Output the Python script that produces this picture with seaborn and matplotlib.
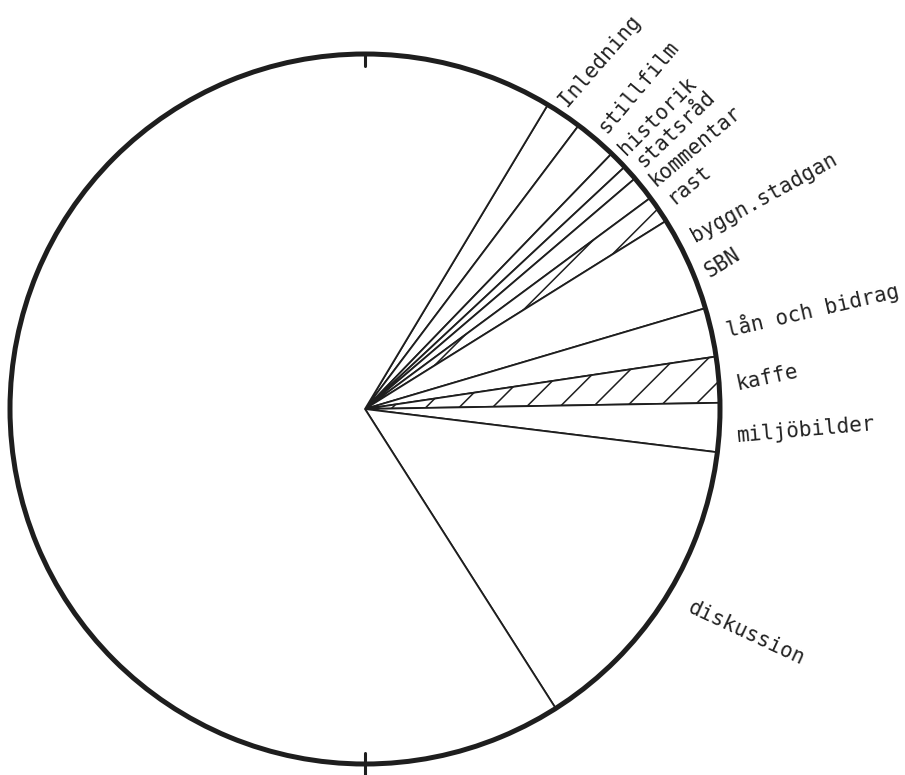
import numpy as np
import matplotlib
matplotlib.use("Agg")
import matplotlib.pyplot as plt
import seaborn as sns

# === data: a 12 hour clock face, minutes per item ===
topics = ["Inledning", "stillfilm", "historik", "statsråd", "kommentar", "rast",
          "byggn.stadgan / SBN", "lån och bidrag", "kaffe", "miljöbilder", "diskussion"]
minutes = [12, 14, 6, 5, 8, 9, 31, 16, 15, 16, 101]
is_break = [False, False, False, False, False, True, False, False, True, False, False]
start_minute = 62          # 13:02 on the clock face
clock_minutes = 720        # whole circle = 12 h
clock_marks = [0, 360]     # 12 and 6 o'clock

# text labels as written on the sheet (byggn.stadgan / SBN split on two lines)
label_texts = ["Inledning", "stillfilm", "historik", "statsråd", "kommentar", "rast",
               "byggn.stadgan", "SBN", "lån och bidrag", "kaffe", "miljöbilder", "diskussion"]
# placement of each text (x, y, rotation) - style only
label_pos = [(0.569, 0.851, 49), (0.680, 0.776, 50), (0.734, 0.714, 45),
             (0.784, 0.678, 44), (0.820, 0.624, 40), (0.868, 0.574, 40),
             (0.930, 0.470, 29), (0.972, 0.369, 32), (1.022, 0.203, 13),
             (1.051, 0.054, 12), (1.048, -0.093, 5), (0.907, -0.572, -25)]

sns.set_style("white")
plt.rcParams["font.family"] = ["DejaVu Sans Mono", "DejaVu Sans"]
plt.rcParams["hatch.linewidth"] = 1.1

fig = plt.figure(figsize=(9.05, 7.75), dpi=100)
ax = fig.add_axes([10 / 905, 11 / 775, 710 / 905, 710 / 775])

rest = clock_minutes - sum(minutes)
values = minutes + [rest]
startangle = 90 - start_minute * 360 / clock_minutes

wedges, _ = ax.pie(values, radius=1, startangle=startangle, counterclock=False,
                   colors=["white"] * len(values),
                   wedgeprops=dict(edgecolor="#1e1e1e", linewidth=1.3))
for w, hatched in zip(wedges, is_break + [False]):
    if hatched:
        w.set_hatch("/")

# thick rim of the clock
ax.pie([1], radius=1, wedgeprops=dict(fill=False, edgecolor="#1e1e1e", linewidth=3.6))

# small marks at 12 and 6 o'clock
for m, (r0, r1) in zip(clock_marks, [(0.965, 1.0), (0.97, 1.03)]):
    a = np.deg2rad(90 - m * 360 / clock_minutes)
    r = np.array([r0, r1])
    ax.plot(r * np.cos(a), r * np.sin(a), color="#1e1e1e", lw=2.2, clip_on=False)

for txt, (x, y, rot) in zip(label_texts, label_pos):
    ax.text(x, y, txt, rotation=rot, rotation_mode="anchor", ha="left", va="baseline",
            fontsize=15, color="#222222")

ax.set_xlim(-1, 1)
ax.set_ylim(-1, 1)
ax.set_aspect("equal")
ax.axis("off")

plt.savefig("out.png", dpi=100, facecolor="white")
